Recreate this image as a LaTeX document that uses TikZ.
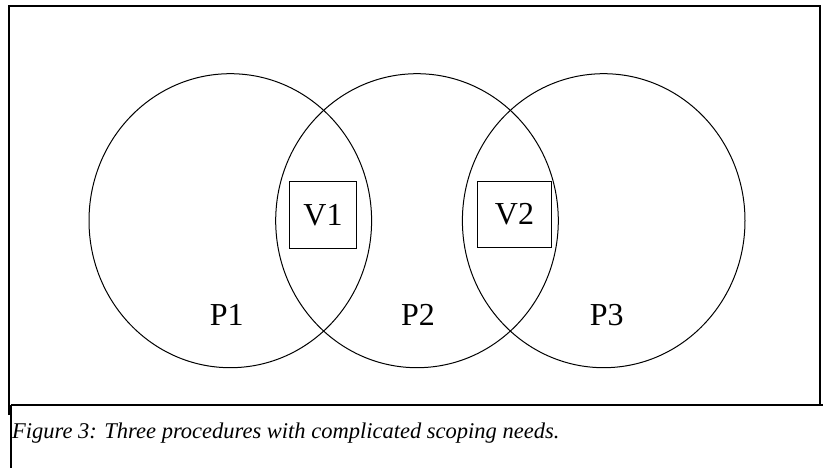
\documentclass[tikz,border=0pt]{standalone}
\usepackage{fontspec}
\setmainfont{Liberation Serif}
\usetikzlibrary{shapes.geometric}
\begin{document}
\begin{tikzpicture}[x=1pt,y=-1pt,
  proc/.style={draw, ellipse, line width=1pt, minimum width=282.6pt, minimum height=294pt, inner sep=0pt},
  varbox/.style={draw, line width=1pt, inner sep=0pt, font=\fontsize{32}{36}\selectfont},
  lbl/.style={inner sep=0pt, anchor=base, font=\fontsize{32}{36}\selectfont},
  frame/.style={line width=1.6pt}]
\useasboundingbox (0,0) rectangle (823,468);
% frame
\draw[frame] (9,415) -- (9,6) -- (820,6) -- (820,405);
\draw[frame] (11,405) -- (823,405);
\draw[frame] (11,405) -- (11,468);
% procedures
\node[proc] (C1) at (230.3,220.7) {};
\node[proc] (C2) at (417,220.7) {};
\node[proc] (C3) at (603.7,220.7) {};
% variable boxes
\node[varbox, minimum width=67pt, minimum height=67pt] (V1) at (323,215) {V1};
\node[varbox, minimum width=74pt, minimum height=66pt] (V2) at (514.5,214.4) {V2};
% labels
\node[lbl] (P1) at (226.7,325) {P1};
\node[lbl] (P2) at (418,325) {P2};
\node[lbl] (P3) at (606.7,325) {P3};
% caption
\node[inner sep=0pt, anchor=base west, font=\fontsize{22.5}{26}\selectfont\itshape] (cap) at (12,438) {Figure 3: Three procedures with complicated scoping needs.};
\end{tikzpicture}
\end{document}
